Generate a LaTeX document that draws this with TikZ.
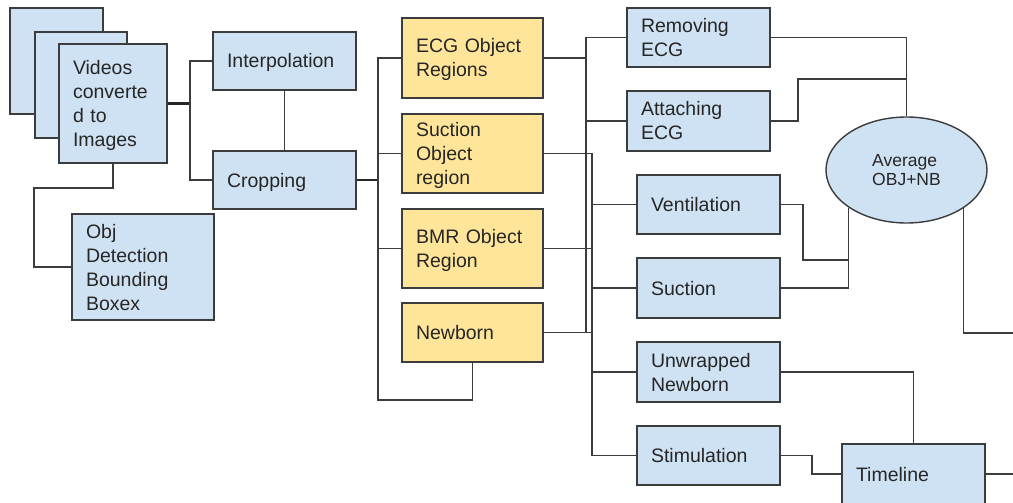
\documentclass[tikz,border=0pt]{standalone}
\usepackage{fontspec}
\setmainfont{Liberation Sans}
\usetikzlibrary{shapes.geometric}
\definecolor{bluebox}{HTML}{CFE2F3}
\definecolor{yellowbox}{HTML}{FFE599}
\definecolor{edgecol}{HTML}{3C3C3C}
\newcommand{\mystrut}{\rule[-4.5pt]{0pt}{23pt}}
\tikzset{
  box/.style={draw=edgecol, line width=1.4pt, rectangle, inner xsep=0pt, inner ysep=0pt,
    align=left, text=black!85, font=\fontsize{19.5}{24}\selectfont,
    execute at begin node=\mystrut, execute at end node=\mystrut},
  ell/.style={draw=edgecol, line width=1.4pt, ellipse, fill=bluebox, inner sep=0pt,
    minimum width=161pt, minimum height=106pt, align=left, text=black!85,
    font=\fontsize{17.5}{19.5}\selectfont},
  conn/.style={draw=edgecol, line width=1.5pt},
  thickconn/.style={draw=black!85, line width=2.4pt}
}
\newcommand{\mybox}[7]{%
  \pgfmathsetmacro\bw{#4-#2}\pgfmathsetmacro\bh{#5-#3}\pgfmathsetmacro\tw{#4-#2-28}%
  \pgfmathsetmacro\cx{(#2+#4)/2}\pgfmathsetmacro\cy{(#3+#5)/2}%
  \node[box, fill=#6, minimum width=\bw pt, minimum height=\bh pt, text width=\tw pt] (#1) at (\cx,\cy) {#7};}
\begin{document}
\begin{tikzpicture}[x=1pt,y=-1pt]
\useasboundingbox (0,0) rectangle (1013,503);
% stacked image boxes
\mybox{bk1}{10}{8}{103}{114}{bluebox}{}
\mybox{bk2}{35}{32}{127}{138}{bluebox}{}
\mybox{vid}{59}{44}{167}{163}{bluebox}{Videos\\converte\\d to\\Images}
\mybox{interp}{213}{32}{356}{90}{bluebox}{Interpolation}
\mybox{crop}{213}{151}{356}{209}{bluebox}{Cropping}
\mybox{obj}{72}{214}{214}{320}{bluebox}{Obj\\Detection\\Bounding\\Boxex}
% yellow
\mybox{ecg}{402}{18}{543}{98}{yellowbox}{ECG Object\\Regions}
\mybox{suc}{402}{114}{543}{193}{yellowbox}{Suction\\Object\\region}
\mybox{bmr}{402}{209}{543}{288}{yellowbox}{BMR Object\\Region}
\mybox{nb}{402}{303}{543}{362}{yellowbox}{Newborn}
% right column
\mybox{rem}{627}{8}{770}{67}{bluebox}{Removing\\ECG}
\mybox{att}{627}{91}{770}{151}{bluebox}{Attaching\\ECG}
\mybox{vent}{637}{175}{780}{234}{bluebox}{Ventilation}
\mybox{suc2}{637}{258}{780}{318}{bluebox}{Suction}
\mybox{unw}{637}{342}{780}{402}{bluebox}{Unwrapped\\Newborn}
\mybox{stim}{637}{426}{780}{485}{bluebox}{Stimulation}
\mybox{tl}{842}{444}{985}{504}{bluebox}{Timeline}
\node[ell] (avg) at (906.5,170) {Average\\OBJ+NB};
% junction coordinates
\coordinate (j1) at (190,103.5);
\coordinate (j2) at (34,188);
\coordinate (j3) at (378,180);
\coordinate (j3b) at (378,400);
\coordinate (ka) at (586,333);
\coordinate (kb) at (592,455.5);
\coordinate (m1) at (798,79);
\coordinate (m2) at (803,260);
\coordinate (m4) at (812,474);
\coordinate (e1) at (1013,333);
\coordinate (e2) at (1013,474);
% connectors
\draw[thickconn] (vid.east) -- (j1);
\draw[conn] (interp.west) -| (j1) |- (crop.west);
\draw[conn] (interp.south) -- (crop.north);
\draw[conn] (vid.south) |- (j2) |- (obj.west);
\draw[thickconn] (crop.east) -- (j3);
\draw[conn] (ecg.west) -| (j3b) -| (nb.south);
\draw[conn] (suc.west) -- (suc.west -| j3);
\draw[conn] (bmr.west) -- (bmr.west -| j3);
\draw[conn] (rem.west) -| (ka);
\draw[conn] (ecg.east) -- (ecg.east -| ka);
\draw[conn] (att.west) -- (att.west -| ka);
\draw[conn] (suc.east) -| (kb) -- (stim.west);
\draw[conn] (bmr.east) -- (bmr.east -| kb);
\draw[conn] (nb.east) -- (nb.east -| kb);
\draw[conn] (vent.west) -- (vent.west -| kb);
\draw[conn] (suc2.west) -- (suc2.west -| kb);
\draw[conn] (unw.west) -- (unw.west -| kb);
\draw[conn] (rem.east) -| (avg.north);
\draw[conn] (att.east) -| (m1) -- (m1 -| avg.north);
\draw[conn] (vent.east) -| (m2) -| (avg.213.8);
\draw[conn] (suc2.east) -| (avg.213.8);
\draw[conn] (avg.326.2) |- (e1);
\draw[conn] (unw.east) -| (tl.north);
\draw[conn] (stim.east) -| (m4) -- (tl.west);
\draw[conn] (tl.east) -- (e2);
\end{tikzpicture}
\end{document}
